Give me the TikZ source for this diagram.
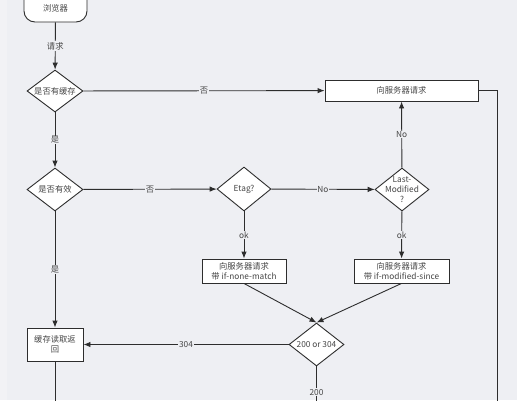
\documentclass[tikz,border=0pt]{standalone}
\usepackage{fontspec}
\setmainfont{Noto Sans CJK SC}
\usetikzlibrary{shapes.geometric,arrows.meta}
\definecolor{bg}{RGB}{238,239,243}
\definecolor{strip}{RGB}{242,242,245}
\definecolor{ln}{RGB}{45,45,45}
\definecolor{tx}{RGB}{70,70,70}
\tikzset{
  every node/.style={font=\fontsize{8.3}{10}\selectfont, text=tx},
  boxnode/.style={draw=ln, line width=0.9pt, fill=white, rectangle, inner sep=0pt, align=center},
  dia/.style={draw=ln, line width=0.9pt, fill=white, diamond, inner sep=0pt},
  conn/.style={draw=ln, line width=0.9pt},
  arr/.style={conn, -{Latex[length=7pt,width=5.5pt]}},
  lbl/.style={fill=bg, inner sep=0.8pt, font=\fontsize{8.3}{9.5}\selectfont},
}
\begin{document}
\begin{tikzpicture}[x=1pt,y=-1pt]
\useasboundingbox (0,0) rectangle (517,400);
\clip (0,0) rectangle (517,400);
\fill[bg] (0,0) rectangle (517,400);
\fill[strip] (0,0) rectangle (7,400);

\node[boxnode, rounded corners=11pt, minimum width=63pt, minimum height=34pt] (browser) at (55.5,5) {};
\node at (55.5,8.5) (browsertxt) {浏览器};

\node[dia, minimum width=56pt, minimum height=42pt, label={center:是否有缓存}] (d1) at (55,91) {};
\node[dia, minimum width=56pt, minimum height=43pt, label={center:是否有效}] (d2) at (55,189.5) {};
\node[dia, minimum width=54pt, minimum height=44pt, label={center:Etag?}] (etag) at (244,189) {};
\node[dia, minimum width=54pt, minimum height=43pt, label={[align=center, font=\fontsize{8.3}{10}\selectfont]center:Last-\\Modified\\?}] (lm) at (402,189.5) {};
\node[dia, minimum width=55pt, minimum height=43pt, label={center:200 or 304}] (d304) at (316.5,344.5) {};

\node[boxnode, minimum width=153pt, minimum height=21pt] (srv) at (401.5,90.5) {向服务器请求};
\node[boxnode, minimum width=84pt, minimum height=24pt] (etagbox) at (244,271) {向服务器请求\\带 if-none-match};
\node[boxnode, minimum width=95pt, minimum height=24pt] (lmbox) at (401.5,271) {向服务器请求\\带 if-modified-since};
\node[boxnode, minimum width=56pt, minimum height=33pt, text width=50pt] (cache) at (55,344.5) {缓存读取返\\回};

\coordinate (cacheend) at (55,420);
\coordinate (d304end) at (316.5,418);
\coordinate (rtop) at (497,90.5);
\coordinate (rend) at (497,420);

\draw[arr] (browser) -- node[lbl] {请求} (d1);
\draw[arr] (d1) -- node[lbl] {否} (srv);
\draw[arr] (d1) -- node[lbl] {是} (d2);
\draw[arr] (d2) -- node[lbl] {否} (etag);
\draw[arr] (etag) -- node[lbl] {No} (lm);
\draw[arr] (lm) -- node[lbl] {No} (srv);
\draw[arr] (etag) -- node[lbl] {ok} (etagbox);
\draw[arr] (lm) -- node[lbl] {ok} (lmbox);
\draw[arr] (d2) -- node[lbl] {是} (cache);
\draw[arr] (etagbox.south) -- (d304.north);
\draw[arr] (lmbox.south) -- (d304.north);
\draw[arr] (d304) -- node[lbl] {304} (cache);
\draw[conn] (d304) -- node[lbl] {200} (d304end);
\draw[conn] (cache) -- (cacheend);
\draw[conn] (srv.east) -- (rtop) -- (rend);
\end{tikzpicture}
\end{document}
